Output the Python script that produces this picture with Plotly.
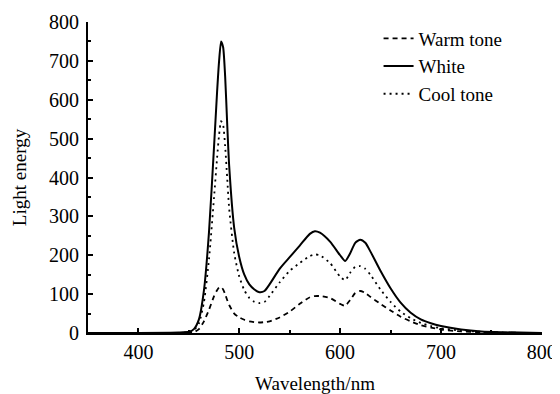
import plotly.graph_objects as go

wavelength = [350, 400, 440, 450, 455, 460, 465, 470, 475, 478, 480, 482, 484, 486, 488, 490,
              495, 500, 505, 510, 515, 520, 525, 530, 540, 550, 560, 570, 575, 580, 590, 600,
              605, 610, 615, 620, 625, 630, 640, 650, 660, 670, 680, 690, 700, 720, 740, 760, 800]

white = [0, 0, 1, 3, 10, 35, 110, 260, 480, 620, 700, 750, 735, 660, 540, 430,
         270, 195, 150, 125, 112, 105, 108, 125, 165, 195, 225, 255, 262, 258, 235, 200,
         185, 205, 232, 240, 232, 210, 160, 115, 78, 52, 35, 25, 18, 9, 4, 2, 0]

cool = [0, 0, 0, 2, 7, 25, 80, 190, 350, 450, 510, 545, 535, 480, 400, 320,
        205, 145, 110, 90, 80, 77, 80, 95, 130, 160, 180, 198, 202, 200, 180, 145,
        136, 155, 170, 172, 165, 150, 112, 80, 55, 38, 26, 18, 12, 6, 3, 1, 0]

warm = [0, 0, 0, 0, 2, 10, 30, 60, 95, 110, 117, 118, 112, 100, 85, 72,
        50, 40, 34, 30, 28, 27, 28, 30, 40, 55, 75, 92, 95, 95, 90, 75,
        70, 85, 103, 108, 103, 93, 75, 58, 42, 30, 20, 14, 9, 4, 2, 1, 0]

series_names = ["Warm tone", "White", "Cool tone"]

FONT = "Liberation Serif"

fig = go.Figure()
fig.add_trace(go.Scatter(x=wavelength, y=warm, name=series_names[0], mode="lines",
                         line=dict(color="black", width=1.8, dash="5px,4px", shape="spline", smoothing=0.6)))
fig.add_trace(go.Scatter(x=wavelength, y=white, name=series_names[1], mode="lines",
                         line=dict(color="black", width=2, shape="spline", smoothing=0.6)))
fig.add_trace(go.Scatter(x=wavelength, y=cool, name=series_names[2], mode="lines",
                         line=dict(color="black", width=1.8, dash="2px,4px", shape="spline", smoothing=0.6)))

# page body has an 8px default margin, so the figure is sized/offset to compensate
fig.update_layout(
    width=552, height=386,
    margin=dict(l=80, r=18, t=14, b=61),
    paper_bgcolor="white", plot_bgcolor="white",
    font=dict(family=FONT, size=19, color="black"),
    showlegend=True,
    legend=dict(x=0.64, y=1.008, xanchor="left", yanchor="top",
                bgcolor="rgba(0,0,0,0)", font=dict(family=FONT, size=19, color="black"),
                tracegroupgap=0),
)
fig.update_xaxes(
    range=[350, 800.2], showgrid=False, zeroline=False, automargin=False,
    showline=True, linecolor="black", linewidth=2,
    ticks="inside", ticklen=5, tickwidth=1.5, tickcolor="black",
    tickvals=[400, 500, 600, 700, 800],
    ticklabeloverflow="allow",
    tickfont=dict(family=FONT, size=20, color="black"),
    minor=dict(ticks="inside", ticklen=3, tickwidth=1.5, tickcolor="black", tickvals=[450, 550, 650, 750]),
    title=dict(text="Wavelength/nm", standoff=24, font=dict(family=FONT, size=19, color="black")),
)
fig.update_yaxes(
    range=[0, 800], showgrid=False, zeroline=False, automargin=False,
    showline=True, linecolor="black", linewidth=2,
    ticks="inside", ticklen=5, tickwidth=1.5, tickcolor="black",
    tickvals=[0, 100, 200, 300, 400, 500, 600, 700, 800],
    tickfont=dict(family=FONT, size=20, color="black"),
    ticklabelstandoff=3,
    minor=dict(ticks="inside", ticklen=3, tickwidth=1.5, tickcolor="black",
               tickvals=[50, 150, 250, 350, 450, 550, 650, 750]),
    title=dict(text="Light energy", standoff=17, font=dict(family=FONT, size=19, color="black")),
)

fig.write_html("out.html")
